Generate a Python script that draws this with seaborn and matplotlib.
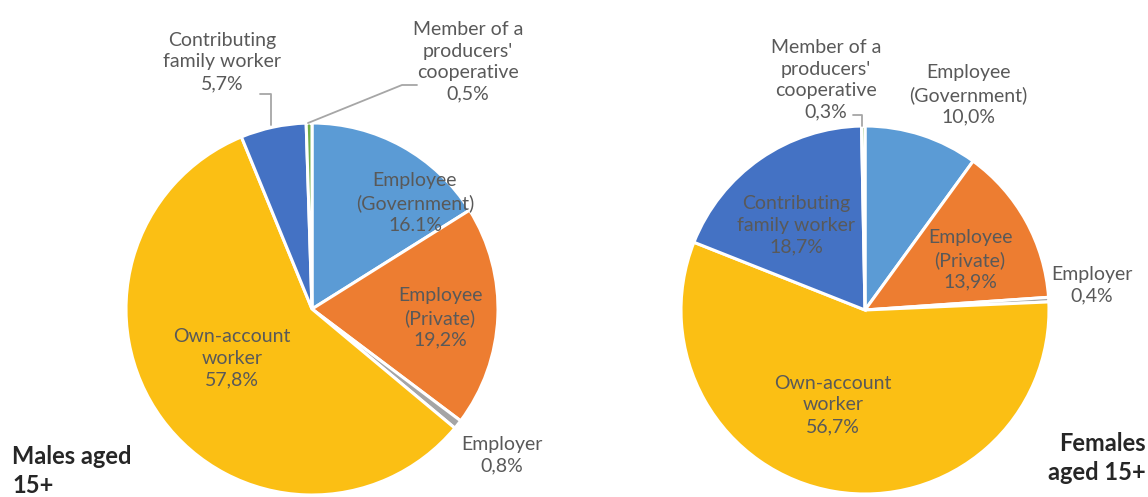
import numpy as np
import matplotlib
matplotlib.use("Agg")
import matplotlib.pyplot as plt
import seaborn as sns

# categories in drawing order (clockwise from 12 o'clock)
categories = ["Employee (Government)", "Employee (Private)", "Employer",
              "Own-account worker", "Contributing family worker",
              "Member of a producers' cooperative"]
males = [16.1, 19.2, 0.8, 57.8, 5.7, 0.5]
females = [10.0, 13.9, 0.4, 56.7, 18.7, 0.3]
male_labels = ["Employee\n(Government)\n16.1%", "Employee\n(Private)\n19,2%", "Employer\n0,8%",
               "Own-account\nworker\n57,8%", "Contributing\nfamily worker\n5,7%",
               "Member of a\nproducers'\ncooperative\n0,5%"]
female_labels = ["Employee\n(Government)\n10,0%", "Employee\n(Private)\n13,9%", "Employer\n0,4%",
                 "Own-account\nworker\n56,7%", "Contributing\nfamily worker\n18,7%",
                 "Member of a\nproducers'\ncooperative\n0,3%"]

sns.set_theme(style="white")
plt.rcParams["font.family"] = ["Lato", "DejaVu Sans"]
colors = sns.color_palette(["#5B9BD5", "#ED7D31", "#A5A5A5", "#FBBF14", "#4472C4", "#70AD47"])

W, H = 1148, 497
fig = plt.figure(figsize=(W / 100, H / 100), dpi=100)
ax = fig.add_axes([0, 0, 1, 1])


def Y(y):
    return H - y


wp = dict(edgecolor="white", linewidth=2.2)
ax.pie(males, colors=colors, startangle=90, counterclock=False,
       center=(312, Y(309)), radius=186, wedgeprops=wp)
ax.pie(females, colors=colors, startangle=90, counterclock=False,
       center=(865, Y(310)), radius=184, wedgeprops=wp)
ax.set_xlim(0, W)
ax.set_ylim(0, H)
ax.set_aspect("equal")
ax.axis("off")

tc = "#595959"
fs = 14
# label positions (pixel coords of the reference) for each slice
male_pos = [(415, 203), (440, 318), (502, 455), (232, 358), (222, 62), (468, 62)]
female_pos = [(968, 95), (970, 260), (1092, 285), (833, 405), (796, 225), (826, 80)]
for txt, (x, y) in zip(male_labels, male_pos):
    ax.text(x, Y(y), txt, ha="center", va="center", fontsize=fs, color=tc, linespacing=1.32)
for txt, (x, y) in zip(female_labels, female_pos):
    ax.text(x, Y(y), txt, ha="center", va="center", fontsize=fs, color=tc, linespacing=1.32)

# leader lines
lc = "#A6A6A6"
ax.plot([260, 271, 271], [Y(94), Y(94), Y(125)], color=lc, lw=1.3)
ax.plot([417, 402, 308], [Y(85), Y(85), Y(123)], color=lc, lw=1.3)
ax.plot([853, 862, 862], [Y(115), Y(115), Y(126)], color=lc, lw=1.3)

ax.text(12, Y(471), "Males aged\n15+", ha="left", va="center", fontsize=17,
        fontweight="bold", color="#262626", linespacing=1.35)
ax.text(1146, Y(458), "Females\naged 15+", ha="right", va="center", fontsize=17,
        fontweight="bold", color="#262626", linespacing=1.35)

fig.savefig("out.png", dpi=100)
